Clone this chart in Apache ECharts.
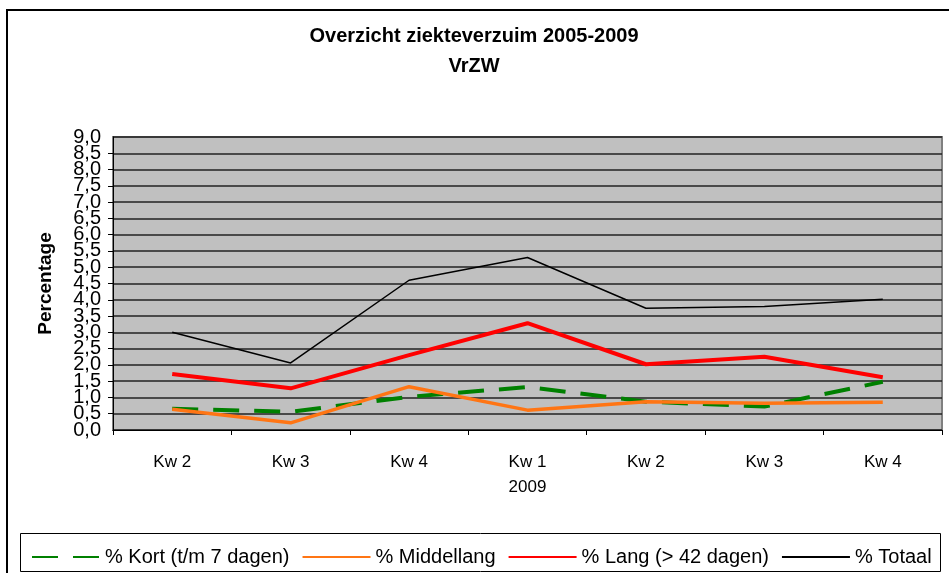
<!DOCTYPE html>
<html>
<head>
<meta charset="utf-8">
<script src="https://cdn.jsdelivr.net/npm/echarts@6/dist/echarts.min.js"></script>
<style>
  html, body { margin: 0; padding: 0; background: #fff; }
  #chart { width: 949px; height: 573px; }
</style>
</head>
<body>
<div id="chart"></div>
<script>
const quarters = ["Kw 2", "Kw 3", "Kw 4", "Kw 1", "Kw 2", "Kw 3", "Kw 4"];
const years = ["", "", "", "2009", "", "", ""];
const yTicks = { min: 0, max: 9, step: 0.5 };

const kort = [0.65, 0.56, 1.02, 1.32, 0.87, 0.72, 1.48];
const middellang = [0.64, 0.22, 1.33, 0.61, 0.87, 0.82, 0.85];
const lang = [1.72, 1.28, 2.3, 3.28, 2.02, 2.25, 1.62];
const totaal = [3.0, 2.06, 4.6, 5.3, 3.74, 3.79, 4.02];

window.addEventListener("load", function () {
  const chart = echarts.init(document.getElementById("chart"));
  const font = "Arial, Liberation Sans";

  function line(name, data, color, width, type) {
    return {
      name: name,
      type: "line",
      data: data,
      yAxisIndex: 0,
      symbol: "none",
      silent: true,
      z: 3,
      lineStyle: { color: color, width: width, type: type || "solid" },
      itemStyle: { color: color },
    };
  }

  // shared style for the y labels (0,0 ... 9,0)
  const yLabel = {
    margin: 12,
    hideOverlap: false,
    fontFamily: font,
    fontSize: 20,
    color: "#000",
    formatter: function (v) {
      return v.toFixed(1).replace(".", ",");
    },
  };

  const option = {
    animation: false,
    backgroundColor: "#fff",
    grid: {
      left: 113,
      right: 7,
      top: 137,
      bottom: 143,
      show: true,
      backgroundColor: "#c0c0c0",
      borderColor: "#808080",
      borderWidth: 2,
    },
    legend: {
      left: 26,
      top: 542,
      itemWidth: 68,
      itemHeight: 14,
      itemGap: 12,
      itemStyle: { opacity: 0 },
      textStyle: {
        fontFamily: font,
        fontSize: 20,
        color: "#000",
      },
      data: ["% Kort (t/m 7 dagen)", "% Middellang", "% Lang (> 42 dagen)", "% Totaal"],
    },
    xAxis: {
      type: "category",
      data: quarters,
      boundaryGap: true,
      axisLine: { lineStyle: { color: "#000", width: 1 } },
      axisTick: { show: true, length: 5, lineStyle: { color: "#000" } },
      axisLabel: {
        margin: 20,
        fontFamily: font,
        fontSize: 17,
        color: "#000",
        lineHeight: 25,
        formatter: function (v, i) {
          return years[i] ? v + "\n" + years[i] : v;
        },
      },
      splitLine: { show: false },
    },
    yAxis: [
      {
        type: "value",
        position: "left",
        min: yTicks.min,
        max: yTicks.max,
        interval: yTicks.step,
        name: "Percentage",
        nameLocation: "middle",
        nameGap: 58,
        nameRotate: 90,
        nameTextStyle: {
          fontFamily: font,
          fontSize: 19,
          fontWeight: "bold",
          color: "#000",
        },
        axisLine: { show: true, lineStyle: { color: "#000", width: 1 } },
        axisTick: { show: true, length: 5, lineStyle: { color: "#000" } },
        axisLabel: Object.assign({ showMinLabel: false, showMaxLabel: false }, yLabel),
        splitLine: { show: true, lineStyle: { color: "#222", width: 1.5 } },
      },
      {
        // only carries the 0,0 and 9,0 labels
        type: "value",
        position: "left",
        min: yTicks.min,
        max: yTicks.max,
        interval: yTicks.max - yTicks.min,
        axisLine: { show: false },
        axisTick: { show: false },
        splitLine: { show: false },
        axisLabel: Object.assign({ showMinLabel: true, showMaxLabel: true }, yLabel),
      },
    ],
    series: [
      line("% Kort (t/m 7 dagen)", kort, "#008000", 4, [26, 15]),
      line("% Middellang", middellang, "#ff7514", 3.5),
      line("% Lang (> 42 dagen)", lang, "#ff0000", 4),
      line("% Totaal", totaal, "#000000", 1.5),
    ],
    graphic: [
      {
        type: "text",
        x: 474,
        y: 21,
        silent: true,
        style: {
          text: "Overzicht ziekteverzuim 2005-2009\nVrZW",
          align: "center",
          verticalAlign: "top",
          font: "bold 20px Arial, Liberation Sans",
          lineHeight: 30,
          fill: "#000",
        },
      },
      {
        type: "rect",
        shape: { x: 7, y: 10, width: 960, height: 600 },
        style: { fill: null, stroke: "#000", lineWidth: 2 },
        silent: true,
        z: -1,
      },
      {
        type: "rect",
        shape: { x: 20.5, y: 533.5, width: 920, height: 38 },
        style: { fill: null, stroke: "#000", lineWidth: 1 },
        silent: true,
        z: -1,
      },
    ],
  };

  chart.setOption(option);
});
</script>
</body>
</html>
